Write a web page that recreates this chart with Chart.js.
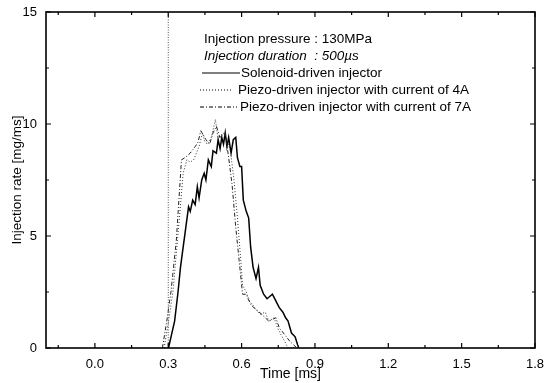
<!DOCTYPE html>
<html>
<head>
<meta charset="utf-8">
<script src="https://cdn.jsdelivr.net/npm/chart.js@4"></script>
<style>
  html, body { margin: 0; padding: 0; background: #fff; }
  #wrap { width: 548px; height: 383px; }
</style>
</head>
<body>
<div id="wrap"><canvas id="rateChart" width="548" height="383"></canvas></div>
<script>
/* ── Data ───────────────────────────────────────────────────────────────── */
const solenoidTime = [0.301, 0.326, 0.340, 0.350, 0.361, 0.372, 0.383, 0.390, 0.400, 0.410, 0.419, 0.426,
  0.437, 0.447, 0.454, 0.464, 0.476, 0.483, 0.497, 0.504, 0.512, 0.519, 0.526, 0.533, 0.540, 0.547,
  0.557, 0.566, 0.576, 0.583, 0.593, 0.600, 0.607, 0.619, 0.629, 0.637, 0.647, 0.659, 0.669, 0.676,
  0.690, 0.704, 0.715, 0.726, 0.740, 0.754, 0.769, 0.780, 0.790, 0.804, 0.819, 0.829, 0.834];
const solenoidRate = [0.0, 1.2, 2.5, 3.6, 4.5, 5.4, 6.3, 6.1, 6.6, 6.4, 7.2, 6.7,
  7.5, 7.8, 7.5, 8.4, 8.1, 8.8, 8.7, 9.3, 8.9, 9.4, 9.1, 9.6, 9.0, 9.4,
  8.7, 9.3, 9.4, 8.5, 8.1, 8.1, 6.6, 6.1, 5.8, 4.5, 3.6, 3.1, 3.6, 2.8,
  2.4, 2.2, 2.3, 2.4, 2.1, 1.8, 1.6, 1.35, 1.2, 0.67, 0.5, 0.15, 0.0];

const piezo4Time = [0.283, 0.300, 0.319, 0.340, 0.361, 0.376, 0.390, 0.404, 0.415, 0.426, 0.440, 0.450,
  0.461, 0.476, 0.493, 0.504, 0.515, 0.526, 0.540, 0.554, 0.569, 0.583, 0.594, 0.604, 0.619, 0.633,
  0.654, 0.676, 0.697, 0.711, 0.733, 0.747, 0.761, 0.776, 0.790];
const piezo4Rate = [0.0, 1.1, 2.5, 5.1, 7.8, 8.4, 8.3, 8.4, 8.7, 9.0, 9.6, 9.2,
  9.1, 9.4, 10.2, 9.3, 9.5, 9.6, 9.3, 8.8, 7.5, 5.8, 4.3, 2.8, 2.5, 2.1,
  1.8, 1.5, 1.6, 1.2, 1.35, 0.9, 0.6, 0.3, 0.0];

const piezo7Time = [0.276, 0.294, 0.311, 0.333, 0.354, 0.369, 0.390, 0.411, 0.422, 0.433, 0.444, 0.454,
  0.469, 0.483, 0.497, 0.511, 0.522, 0.533, 0.547, 0.561, 0.576, 0.590, 0.604, 0.619, 0.626, 0.640,
  0.661, 0.683, 0.711, 0.740, 0.754, 0.776, 0.797, 0.826];
const piezo7Rate = [0.0, 1.2, 2.5, 4.8, 8.4, 8.5, 8.7, 9.0, 9.2, 9.7, 9.5, 9.3,
  9.1, 9.6, 9.9, 9.4, 9.5, 9.6, 8.5, 7.3, 5.4, 3.9, 2.4, 2.4, 2.2, 1.9,
  1.7, 1.5, 1.2, 1.35, 0.9, 0.6, 0.3, 0.0];

// injection trigger marker
const markerTime = [0.3, 0.3];
const markerRate = [0, 15];

const xTickValues = [0.0, 0.3, 0.6, 0.9, 1.2, 1.5, 1.8];
const yTickValues = [0, 5, 10, 15];

const seriesLabels = [
  'Solenoid-driven injector',
  'Piezo-driven injector with current of 4A',
  'Piezo-driven injector with current of 7A',
];
const noteLines = ['Injection pressure : 130MPa', 'Injection duration  : 500\u00b5s'];

/* ── Helpers ────────────────────────────────────────────────────────────── */
const toXY = (xs, ys) => xs.map((x, i) => ({ x, y: ys[i] }));
const FONT = '"Liberation Sans", Arial, Helvetica, sans-serif';

/* ── Frame + inward ticks on all four sides ─────────────────────────────── */
const frameTicks = {
  id: 'frameTicks',
  afterDatasetsDraw(chart) {
    const { ctx, chartArea: a, scales: { x, y } } = chart;
    ctx.save();
    ctx.strokeStyle = '#000';
    ctx.lineWidth = 1.2;
    ctx.beginPath();
    xTickValues.forEach(v => {
      const px = x.getPixelForValue(v);
      ctx.moveTo(px, a.bottom); ctx.lineTo(px, a.bottom - 5);
      ctx.moveTo(px, a.top);    ctx.lineTo(px, a.top + 5);
      const m = x.getPixelForValue(v - 0.15);
      if (m > a.left) {
        ctx.moveTo(m, a.bottom); ctx.lineTo(m, a.bottom - 3);
        ctx.moveTo(m, a.top);    ctx.lineTo(m, a.top + 3);
      }
    });
    yTickValues.forEach(v => {
      const py = y.getPixelForValue(v);
      ctx.moveTo(a.left, py);  ctx.lineTo(a.left + 5, py);
      ctx.moveTo(a.right, py); ctx.lineTo(a.right - 5, py);
      if (v > 0) {
        const m = y.getPixelForValue(v - 2.5);
        ctx.moveTo(a.left, m);  ctx.lineTo(a.left + 3, m);
        ctx.moveTo(a.right, m); ctx.lineTo(a.right - 3, m);
      }
    });
    ctx.stroke();
    ctx.lineWidth = 1.6;
    ctx.strokeRect(a.left, a.top, a.right - a.left, a.bottom - a.top);
    ctx.restore();
  }
};

/* ── Note text and legend inside the plot ───────────────────────────────── */
const noteLegend = {
  id: 'noteLegend',
  afterDraw(chart) {
    const ctx = chart.ctx;
    const rows = [39, 56, 73, 90, 107];
    ctx.save();
    ctx.fillStyle = '#000';
    ctx.textBaseline = 'middle';
    ctx.font = `13.5px ${FONT}`;
    ctx.fillText(noteLines[0], 204, rows[0]);
    ctx.font = `italic 13.5px ${FONT}`;
    ctx.fillText(noteLines[1], 204, rows[1]);

    ctx.font = `13.5px ${FONT}`;
    const samples = [
      { x0: 202, x1: 240, dash: [], w: 1.2, tx: 241 },
      { x0: 200, x1: 232, dash: [1, 2], w: 1, tx: 238 },
      { x0: 200, x1: 237, dash: [4, 2, 1, 2], w: 1, tx: 240 },
    ];
    samples.forEach((s, i) => {
      ctx.strokeStyle = '#000';
      ctx.lineWidth = s.w;
      ctx.setLineDash(s.dash);
      ctx.beginPath();
      ctx.moveTo(s.x0, rows[i + 2]);
      ctx.lineTo(s.x1, rows[i + 2]);
      ctx.stroke();
      ctx.fillText(seriesLabels[i], s.tx, rows[i + 2]);
    });
    ctx.restore();
  }
};

/* ── Chart ──────────────────────────────────────────────────────────────── */
const ctx = document.getElementById('rateChart').getContext('2d');
new Chart(ctx, {
  type: 'line',
  data: {
    datasets: [
      {
        label: 'marker',
        data: toXY(markerTime, markerRate),
        borderColor: '#555',
        borderWidth: 1,
        borderDash: [1, 1.5],
        pointRadius: 0,
      },
      {
        label: seriesLabels[2],
        data: toXY(piezo7Time, piezo7Rate),
        borderColor: '#222',
        borderWidth: 1,
        borderDash: [4, 2, 1, 2],
        pointRadius: 0,
      },
      {
        label: seriesLabels[1],
        data: toXY(piezo4Time, piezo4Rate),
        borderColor: '#333',
        borderWidth: 1,
        borderDash: [1, 2],
        pointRadius: 0,
      },
      {
        label: seriesLabels[0],
        data: toXY(solenoidTime, solenoidRate),
        borderColor: '#000',
        borderWidth: 1.5,
        pointRadius: 0,
      },
    ]
  },
  options: {
    responsive: false,
    animation: false,
    layout: { padding: { top: 12, right: 13, left: 0, bottom: 0 } },
    elements: { line: { tension: 0 } },
    plugins: {
      legend: { display: false },
      tooltip: { enabled: false },
    },
    scales: {
      x: {
        type: 'linear',
        min: -0.2,
        max: 1.8,
        afterBuildTicks: s => { s.ticks = xTickValues.map(v => ({ value: v })); },
        afterFit: s => { s.height = 35; s.paddingLeft = 0; s.paddingRight = 0; },
        grid: { display: false, drawTicks: false },
        border: { display: false },
        ticks: {
          padding: 9,
          color: '#000',
          font: { family: FONT, size: 13 },
          callback: v => Number(v).toFixed(1),
          maxRotation: 0,
        },
        title: {
          display: true,
          text: 'Time [ms]',
          color: '#000',
          font: { family: FONT, size: 14 },
          padding: { top: 0, bottom: 0 },
        }
      },
      y: {
        min: 0,
        max: 15,
        afterBuildTicks: s => { s.ticks = yTickValues.map(v => ({ value: v })); },
        afterFit: s => { s.width = 46; s.paddingTop = 0; s.paddingBottom = 0; },
        grid: { display: false, drawTicks: false },
        border: { display: false },
        ticks: {
          padding: 9,
          color: '#000',
          font: { family: FONT, size: 13 },
        },
        title: {
          display: true,
          text: 'Injection rate [mg/ms]',
          color: '#000',
          font: { family: FONT, size: 13.5 },
          padding: { top: 9, bottom: 0 },
        }
      }
    }
  },
  plugins: [frameTicks, noteLegend]
});
</script>
</body>
</html>
